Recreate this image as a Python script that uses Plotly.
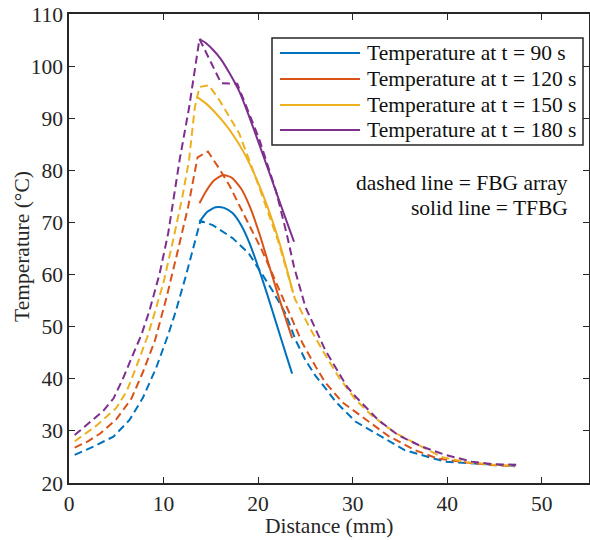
import plotly.graph_objects as go

# ---------------- data ----------------
series_names = ["Temperature at t = 90 s", "Temperature at t = 120 s",
                "Temperature at t = 150 s", "Temperature at t = 180 s"]
colors = ["#0072BD", "#D95319", "#EDB120", "#7E2F8E"]

# FBG array (dashed)
fbg90_x = [0.6, 2.6, 4.7, 6.4, 7.8, 9.2, 10.5, 11.3, 12.4, 13.9, 15.2, 17.3, 19.0, 20.1, 21.5, 22.9, 24.0, 25.0, 26.1, 27.2, 28.2, 30.3, 32.7, 35.5, 38.0, 39.8, 42.2, 45.0, 47.2]
fbg90_t = [25.4, 27.0, 28.9, 32.1, 36.3, 42.0, 48.5, 53.0, 60.0, 70.3, 69.5, 67.0, 64.1, 60.9, 57.0, 52.5, 47.3, 43.6, 40.5, 38.0, 35.6, 31.8, 29.2, 26.3, 25.0, 24.1, 23.8, 23.5, 23.3]

fbg120_x = [0.6, 2, 3.3, 5.0, 6.6, 7.8, 9.1, 10.3, 11.5, 12.6, 13.6, 14.7, 15.9, 17.0, 18.5, 20.4, 21.9, 23.3, 24.7, 26.1, 27.1, 28.9, 31.3, 33.8, 36.6, 39.0, 42.6, 45.0, 47.2]
fbg120_t = [26.8, 28.0, 29.5, 32.2, 36.2, 41.2, 47.4, 55.5, 64.5, 73.0, 82.5, 83.6, 80.3, 77.0, 71.5, 64.7, 58.5, 52.8, 46.8, 42.3, 39.3, 35.5, 32.3, 29.0, 26.3, 24.7, 23.8, 23.4, 23.2]

fbg150_x = [0.6, 2.9, 5.0, 6.1, 7.1, 8.3, 9.2, 10.0, 11.0, 12.0, 12.7, 13.3, 13.8, 14.8, 15.9, 18.0, 20.1, 22.2, 23.9, 25.4, 26.8, 28.5, 30.3, 32.0, 34.5, 36.6, 39.4, 42.0, 45.0, 47.2]
fbg150_t = [28.0, 31.0, 34.4, 37.6, 42.2, 48.1, 53.5, 58.5, 66.5, 75.0, 82.0, 92.0, 96.0, 96.3, 93.5, 87.1, 76.9, 66.0, 55.3, 50.0, 45.5, 40.4, 36.0, 33.0, 29.6, 27.6, 25.0, 24.0, 23.5, 23.3]

fbg180_x = [0.6, 2.2, 3.6, 4.7, 5.7, 6.8, 7.65, 8.5, 9.6, 10.5, 11.7, 12.7, 13.8, 16.1, 17.8, 18.7, 20.1, 21.9, 23.0, 23.8, 25.0, 27.1, 29.4, 30.3, 32.7, 34.8, 37.3, 39.8, 42.6, 45.0, 47.3]
fbg180_t = [29.2, 31.6, 33.8, 36.2, 40.0, 44.8, 48.4, 53.0, 60.3, 68.0, 82.0, 92.0, 105.2, 96.7, 96.6, 92.5, 86.1, 76.0, 68.0, 61.5, 53.8, 45.5, 38.5, 36.6, 32.1, 29.2, 27.0, 25.4, 24.1, 23.6, 23.5]

# TFBG (solid)
tfbg90_x = [13.8, 14.6, 15.5, 16.4, 17.3, 18.2, 19.1, 20.0, 21.0, 22.0, 23.0, 23.6]
tfbg90_t = [70.1, 72.0, 72.9, 72.8, 71.8, 69.5, 66.0, 61.5, 56.0, 50.2, 44.4, 41.0]

tfbg120_x = [13.8, 14.5, 15.3, 16.3, 17.2, 18.2, 19.2, 20.2, 21.2, 22.3, 23.6]
tfbg120_t = [73.7, 76.0, 78.0, 79.1, 78.6, 76.5, 72.7, 67.5, 61.5, 55.0, 47.8]

tfbg150_x = [13.6, 14.5, 15.5, 16.5, 17.5, 18.5, 19.5, 20.5, 21.5, 22.5, 23.7]
tfbg150_t = [94.0, 92.8, 91.0, 88.9, 86.4, 83.4, 79.7, 75.4, 70.4, 64.6, 56.5]

tfbg180_x = [13.8, 14.5, 15.2, 16.0, 17.0, 18.0, 19.0, 20.0, 21.0, 22.0, 23.0, 23.8]
tfbg180_t = [105.2, 104.4, 103.2, 101.5, 98.6, 95.2, 90.6, 85.6, 80.5, 75.4, 70.3, 66.3]

fbg_x = [fbg90_x, fbg120_x, fbg150_x, fbg180_x]
fbg_t = [fbg90_t, fbg120_t, fbg150_t, fbg180_t]
tfbg_x = [tfbg90_x, tfbg120_x, tfbg150_x, tfbg180_x]
tfbg_t = [tfbg90_t, tfbg120_t, tfbg150_t, tfbg180_t]

x_ticks = [0, 10, 20, 30, 40, 50]
y_ticks = [20, 30, 40, 50, 60, 70, 80, 90, 100, 110]

FONT = "Liberation Serif, Times New Roman, serif"
AX = "#262626"
FS = 21.5

fig = go.Figure()
for i in range(4):
    fig.add_trace(go.Scatter(x=fbg_x[i], y=fbg_t[i], mode="lines",
                             line=dict(color=colors[i], width=2, dash="8px,4.5px"),
                             showlegend=False, hoverinfo="skip"))
for i in range(4):
    fig.add_trace(go.Scatter(x=tfbg_x[i], y=tfbg_t[i], mode="lines", name=series_names[i],
                             line=dict(color=colors[i], width=2, shape="spline", smoothing=0.6),
                             showlegend=False))

# plot-area geometry in pixels
L, R, T, B = 69, 589, 14, 483
W, H = R - L, B - T
def px(x): return (x - L) / W
def py(y): return (B - y) / H

shapes = []
annotations = []
# legend box
shapes.append(dict(type="rect", xref="paper", yref="paper",
                   x0=px(272), x1=px(583), y0=py(145), y1=py(38),
                   line=dict(color=AX, width=1.5), fillcolor="white", layer="above"))
rows = [53, 79, 105, 130]
for i in range(4):
    shapes.append(dict(type="line", xref="paper", yref="paper",
                       x0=px(280), x1=px(360), y0=py(rows[i]), y1=py(rows[i]),
                       line=dict(color=colors[i], width=2), layer="above"))
    annotations.append(dict(xref="paper", yref="paper", x=px(365), y=py(rows[i]),
                            text=series_names[i], showarrow=False, xanchor="left", yanchor="middle",
                            font=dict(family=FONT, size=FS, color="#111")))
annotations.append(dict(xref="paper", yref="paper", x=px(570), y=py(183),
                        text="dashed line = FBG array", showarrow=False, xanchor="right",
                        yanchor="middle", font=dict(family=FONT, size=FS, color="#111")))
annotations.append(dict(xref="paper", yref="paper", x=px(570), y=py(208),
                        text="solid line = TFBG", showarrow=False, xanchor="right",
                        yanchor="middle", font=dict(family=FONT, size=FS, color="#111")))
# axis titles
annotations.append(dict(xref="paper", yref="paper", x=px(329), y=py(526),
                        text="Distance (mm)", showarrow=False, xanchor="center",
                        yanchor="middle", font=dict(family=FONT, size=FS, color=AX)))
annotations.append(dict(xref="paper", yref="paper", x=px(22), y=py(247),
                        text="Temperature (°C)", showarrow=False, xanchor="center",
                        yanchor="middle", textangle=-90,
                        font=dict(family=FONT, size=FS, color=AX)))

fig.update_layout(
    width=590, height=540,
    margin=dict(l=L, r=590 - R, t=T, b=540 - B),
    paper_bgcolor="white", plot_bgcolor="white",
    font=dict(family=FONT, size=FS, color=AX),
    showlegend=False,
    shapes=shapes, annotations=annotations,
    xaxis=dict(range=[0, 55], tickvals=x_ticks, ticks="inside", ticklen=6, tickwidth=1.2,
               tickcolor=AX, showline=True, linecolor=AX, linewidth=1.5, mirror="ticks",
               showgrid=False, zeroline=False, automargin=False,
               tickfont=dict(size=FS)),
    yaxis=dict(range=[20, 110], tickvals=y_ticks, ticks="inside", ticklen=6, tickwidth=1.2,
               tickcolor=AX, showline=True, linecolor=AX, linewidth=1.5, mirror="ticks",
               showgrid=False, zeroline=False, automargin=False,
               tickfont=dict(size=FS)),
)

fig.write_html("out.html", config={"displayModeBar": False},
               post_script="document.body.style.margin='0';document.body.style.overflow='hidden';")
